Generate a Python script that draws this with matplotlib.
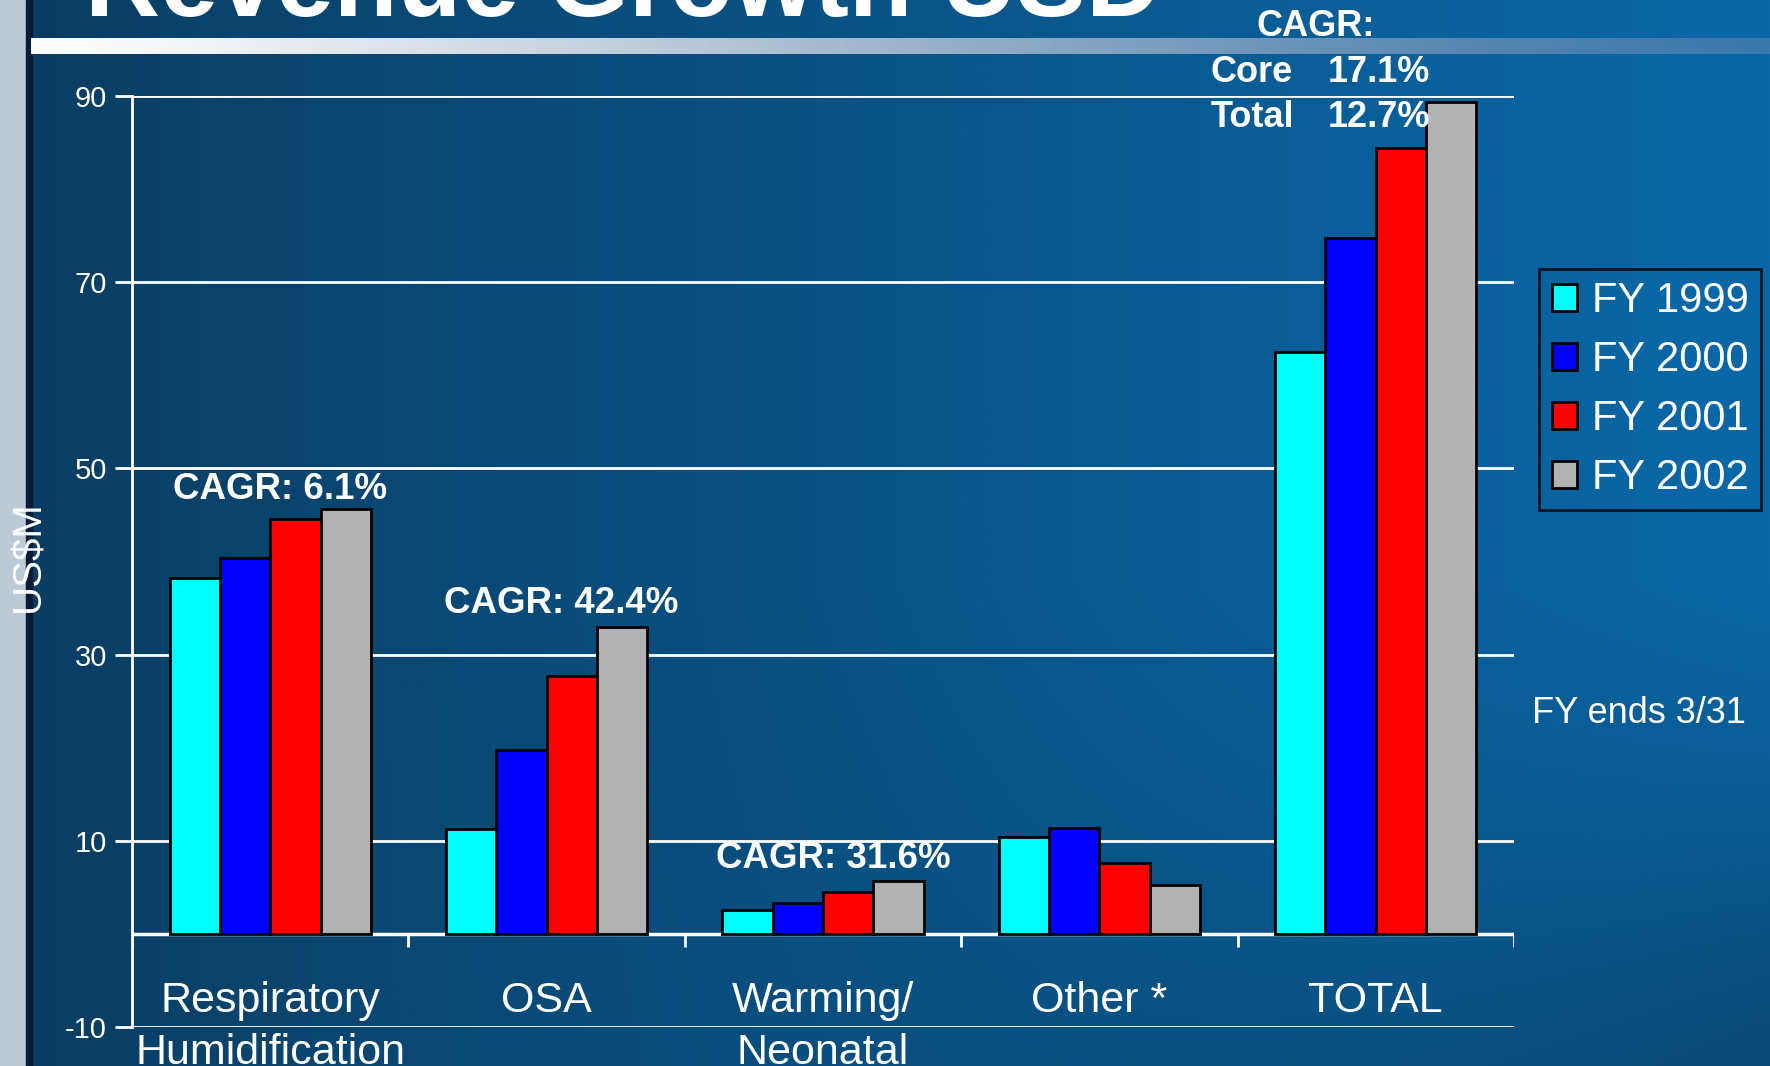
import matplotlib
matplotlib.use("Agg")
import matplotlib.pyplot as plt
import numpy as np
from matplotlib.patches import Patch, Rectangle

plt.rcParams['font.family'] = ['Liberation Sans', 'DejaVu Sans']
plt.rcParams['axes.unicode_minus'] = False

# data (US$M)
categories = ["Respiratory\nHumidification", "OSA", "Warming/\nNeonatal", "Other *", "TOTAL"]
years = ["FY 1999", "FY 2000", "FY 2001", "FY 2002"]
fy1999 = [38.2, 11.3, 2.6, 10.4, 62.5]
fy2000 = [40.4, 19.8, 3.3, 11.4, 74.7]
fy2001 = [44.6, 27.7, 4.5, 7.6, 84.4]
fy2002 = [45.6, 33.0, 5.7, 5.2, 89.4]
series = [fy1999, fy2000, fy2001, fy2002]
colors = ["#00ffff", "#0000ff", "#ff0000", "#b2b2b2"]
cagr_labels = ["CAGR: 6.1%", "CAGR: 42.4%", "CAGR: 31.6%"]

W, H = 1770, 1066
fig = plt.figure(figsize=(W / 100, H / 100), dpi=100)


def fx(px):
    return px / W


def fy(py):
    return 1 - py / H


# ---- background ----
bg = fig.add_axes([0, 0, 1, 1], zorder=-10)
bg.axis("off")
xx, yy = np.meshgrid(np.linspace(0, 1, 400), np.linspace(0, 1, 240))
t = xx ** 0.9 * (1 - 0.7 * np.clip((yy - 0.55) / 0.45, 0, 1) * xx ** 2)
left_c = np.array([0x0a, 0x3c, 0x60]) / 255
right_c = np.array([0x0a, 0x68, 0xa8]) / 255
img = left_c[None, None, :] + (right_c - left_c)[None, None, :] * t[..., None]
bg.imshow(img, extent=(0, W, H, 0), aspect="auto", interpolation="bilinear")

# photo strip on the left edge
bg.add_patch(Rectangle((0, 0), 26, H, color="#bccad6", zorder=2))
bg.add_patch(Rectangle((26, 0), 6, H, color="#081c38", zorder=2))

# white fading rule under the title
gx = np.linspace(0, 1, 300)
rule = np.ones((1, 300, 4))
rule[0, :, 0] = 1 - 0.55 * gx ** 1.2
rule[0, :, 1] = 1 - 0.45 * gx ** 1.2
rule[0, :, 2] = 1 - 0.3 * gx ** 1.2
rule[0, :, 3] = 1 - 0.55 * gx ** 1.5
bg.imshow(rule, extent=(31, W, 54, 38), aspect="auto", interpolation="bilinear", zorder=3)
bg.set_xlim(0, W)
bg.set_ylim(H, 0)

fig.text(fx(85), fy(16), "Revenue Growth USD", fontsize=75, fontweight="bold",
         color="white", va="baseline", ha="left")

# ---- chart ----
ax = fig.add_axes([fx(132), fy(1027), fx(1514 - 132), (1027 - 96) / H])
ax.set_facecolor("none")
x = np.arange(len(categories))
bw = 0.182
for i, (vals, c, lab) in enumerate(zip(series, colors, years)):
    ax.bar(x + (i - 1.5) * bw, vals, bw, color=c, edgecolor="black", linewidth=2,
           label=lab, zorder=3)

ax.set_xlim(-0.5, 4.5)
ax.set_ylim(-10, 90)
ax.set_yticks([-10, 10, 30, 50, 70, 90])
ax.yaxis.grid(True, color="white", linewidth=2)
ax.set_axisbelow(True)
ax.axhline(0, color="white", linewidth=2.5, zorder=2)
ax.vlines(np.arange(-0.5, 5, 1), -1.4, 0, color="white", linewidth=2, zorder=2)

for s in ["top", "right", "bottom"]:
    ax.spines[s].set_visible(False)
ax.spines["left"].set_color("white")
ax.spines["left"].set_linewidth(2)

ax.tick_params(axis="y", colors="white", labelsize=21, length=12, width=2, pad=6)
ax.set_xticks([])

# category names sit between the zero line and the -10 line, second line below it
for xi, name in zip(x, categories):
    for j, line in enumerate(name.split("\n")):
        ax.text(xi, -8.4 - j * 5.6, line, fontsize=31, color="white", ha="center",
                va="baseline", clip_on=False)

fig.text(fx(28), fy(556), "US$M", rotation=90, fontsize=29, color="white",
         ha="center", va="center")

# CAGR notes
ax.text(0.035, 46.7, cagr_labels[0], fontsize=26.5, fontweight="bold", color="white",
        ha="center", va="baseline")
ax.text(1.054, 34.5, cagr_labels[1], fontsize=26.5, fontweight="bold", color="white",
        ha="center", va="baseline")
ax.text(2.039, 7.06, cagr_labels[2], fontsize=26.5, fontweight="bold", color="white",
        ha="center", va="baseline")

fig.text(fx(1256), fy(36), "CAGR:", fontsize=26, fontweight="bold", color="white",
         va="baseline")
fig.text(fx(1211), fy(82), "Core", fontsize=26, fontweight="bold", color="white",
         va="baseline")
fig.text(fx(1328), fy(82), "17.1%", fontsize=26, fontweight="bold", color="white",
         va="baseline")
fig.text(fx(1211), fy(127), "Total", fontsize=26, fontweight="bold", color="white",
         va="baseline")
fig.text(fx(1328), fy(127), "12.7%", fontsize=26, fontweight="bold", color="white",
         va="baseline")

# legend
handles = [Patch(facecolor=c, edgecolor="black", linewidth=2) for c in colors]
leg = fig.legend(handles, years, loc="upper left", bbox_to_anchor=(fx(1539), fy(269)),
                 bbox_transform=fig.transFigure, borderaxespad=0, fontsize=30,
                 frameon=True, fancybox=False, handlelength=0.62, handleheight=0.62,
                 handletextpad=0.35, labelspacing=0.45, borderpad=0.3)
leg.get_frame().set_facecolor("none")
leg.get_frame().set_edgecolor("black")
leg.get_frame().set_linewidth(2)
for txt in leg.get_texts():
    txt.set_color("white")

fig.text(fx(1532), fy(723), "FY ends 3/31", fontsize=26, color="white", va="baseline")

fig.savefig("out.png", dpi=100)
